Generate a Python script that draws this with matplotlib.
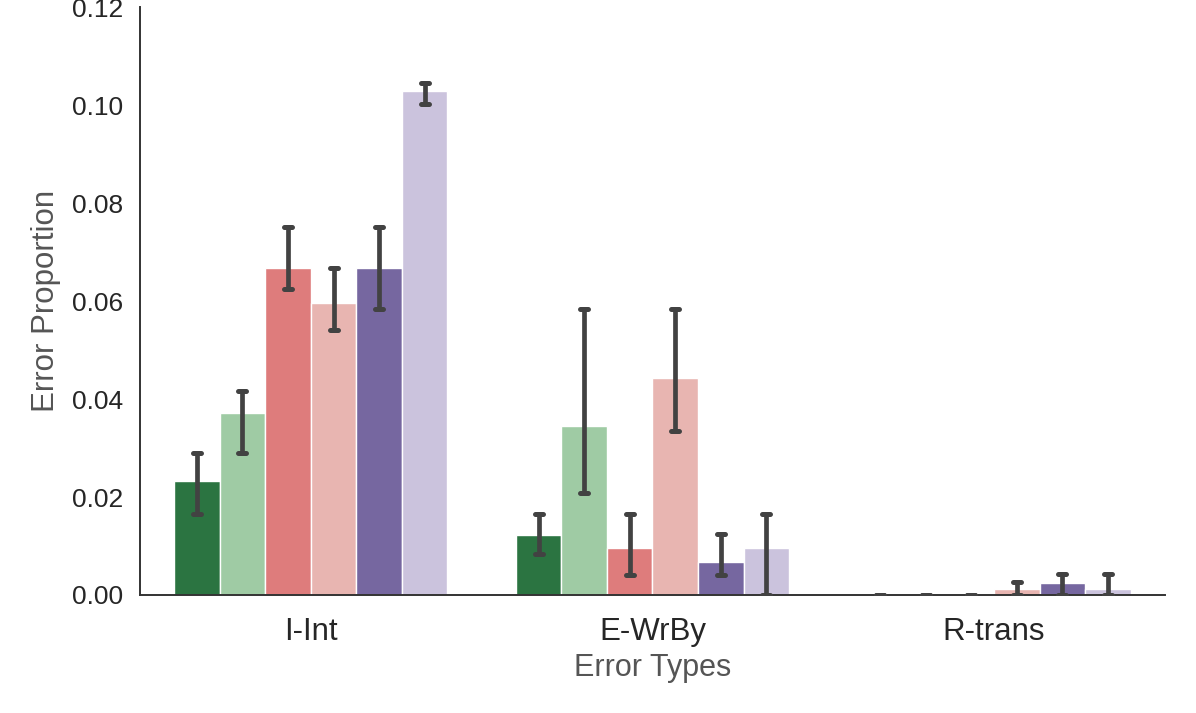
import numpy as np
import matplotlib.pyplot as plt
from matplotlib.markers import MarkerStyle

# Error types on the x axis
categories = ["I-Int", "E-WrBy", "R-trans"]

# Mean error proportion per series (6 hue levels)
s1_mean = [0.0233, 0.0122, 0.0]
s2_mean = [0.0372, 0.0346, 0.0]
s3_mean = [0.0667, 0.0095, 0.0]
s4_mean = [0.0596, 0.0444, 0.0012]
s5_mean = [0.0667, 0.0067, 0.0025]
s6_mean = [0.1029, 0.0095, 0.0012]

# Confidence interval bounds
s1_low = [0.0166, 0.0083, 0.0]
s2_low = [0.0291, 0.0209, 0.0]
s3_low = [0.0625, 0.0041, 0.0]
s4_low = [0.0542, 0.0334, 0.0]
s5_low = [0.0584, 0.0041, 0.0]
s6_low = [0.1003, 0.0, 0.0]

s1_high = [0.0291, 0.0166, 0.0]
s2_high = [0.0416, 0.0585, 0.0]
s3_high = [0.0751, 0.0166, 0.0]
s4_high = [0.0668, 0.0585, 0.0027]
s5_high = [0.0751, 0.0125, 0.0043]
s6_high = [0.1045, 0.0166, 0.0043]

means = [s1_mean, s2_mean, s3_mean, s4_mean, s5_mean, s6_mean]
lows = [s1_low, s2_low, s3_low, s4_low, s5_low, s6_low]
highs = [s1_high, s2_high, s3_high, s4_high, s5_high, s6_high]
colors = ["#2b7441", "#9fcba4", "#de7c7c", "#e8b5b1", "#7667a0", "#cbc3dd"]

plt.rcParams['font.family'] = ['Liberation Sans', 'DejaVu Sans']

fig = plt.figure(figsize=(11.96, 7.13), dpi=100)
ax = fig.add_axes([0.117, 0.1655, 0.857, 0.824])

x = np.arange(len(categories))
n = len(means)
width = 0.8 / n

for i in range(n):
    pos = x - 0.4 + width * (i + 0.5)
    m = np.array(means[i])
    lo = np.array(lows[i])
    hi = np.array(highs[i])
    ax.bar(pos, m, width, color=colors[i], edgecolor="white", linewidth=1, zorder=2)
    eb = ax.errorbar(pos, m, yerr=[m - lo, hi - m], fmt="none", ecolor="#424242",
                     elinewidth=3.4, capsize=3.2, capthick=3.6, zorder=3)
    for cl in eb[1]:
        cl.set_marker(MarkerStyle("_", capstyle="round"))
    for lc in eb[2]:
        lc.set_capstyle("round")

ax.set_xlim(-0.5, 2.5)
ax.set_ylim(0, 0.12)
ax.set_yticks([0, 0.02, 0.04, 0.06, 0.08, 0.10, 0.12])
ax.set_yticklabels(["0.00", "0.02", "0.04", "0.06", "0.08", "0.10", "0.12"])
ax.set_xticks(x)
ax.set_xticklabels(categories)
ax.tick_params(axis="y", length=0, labelsize=19, colors="#262626", pad=12)
ax.tick_params(axis="x", length=0, labelsize=22.5, colors="#262626", pad=16)
ax.set_xlabel("Error Types", fontsize=22, color="#555555", labelpad=4)
ax.set_ylabel("Error Proportion", fontsize=22.5, color="#555555", labelpad=8)

for s in ["top", "right"]:
    ax.spines[s].set_visible(False)
for s in ["left", "bottom"]:
    ax.spines[s].set_color("#333333")
    ax.spines[s].set_linewidth(1.4)

fig.savefig("out.png", dpi=100)
